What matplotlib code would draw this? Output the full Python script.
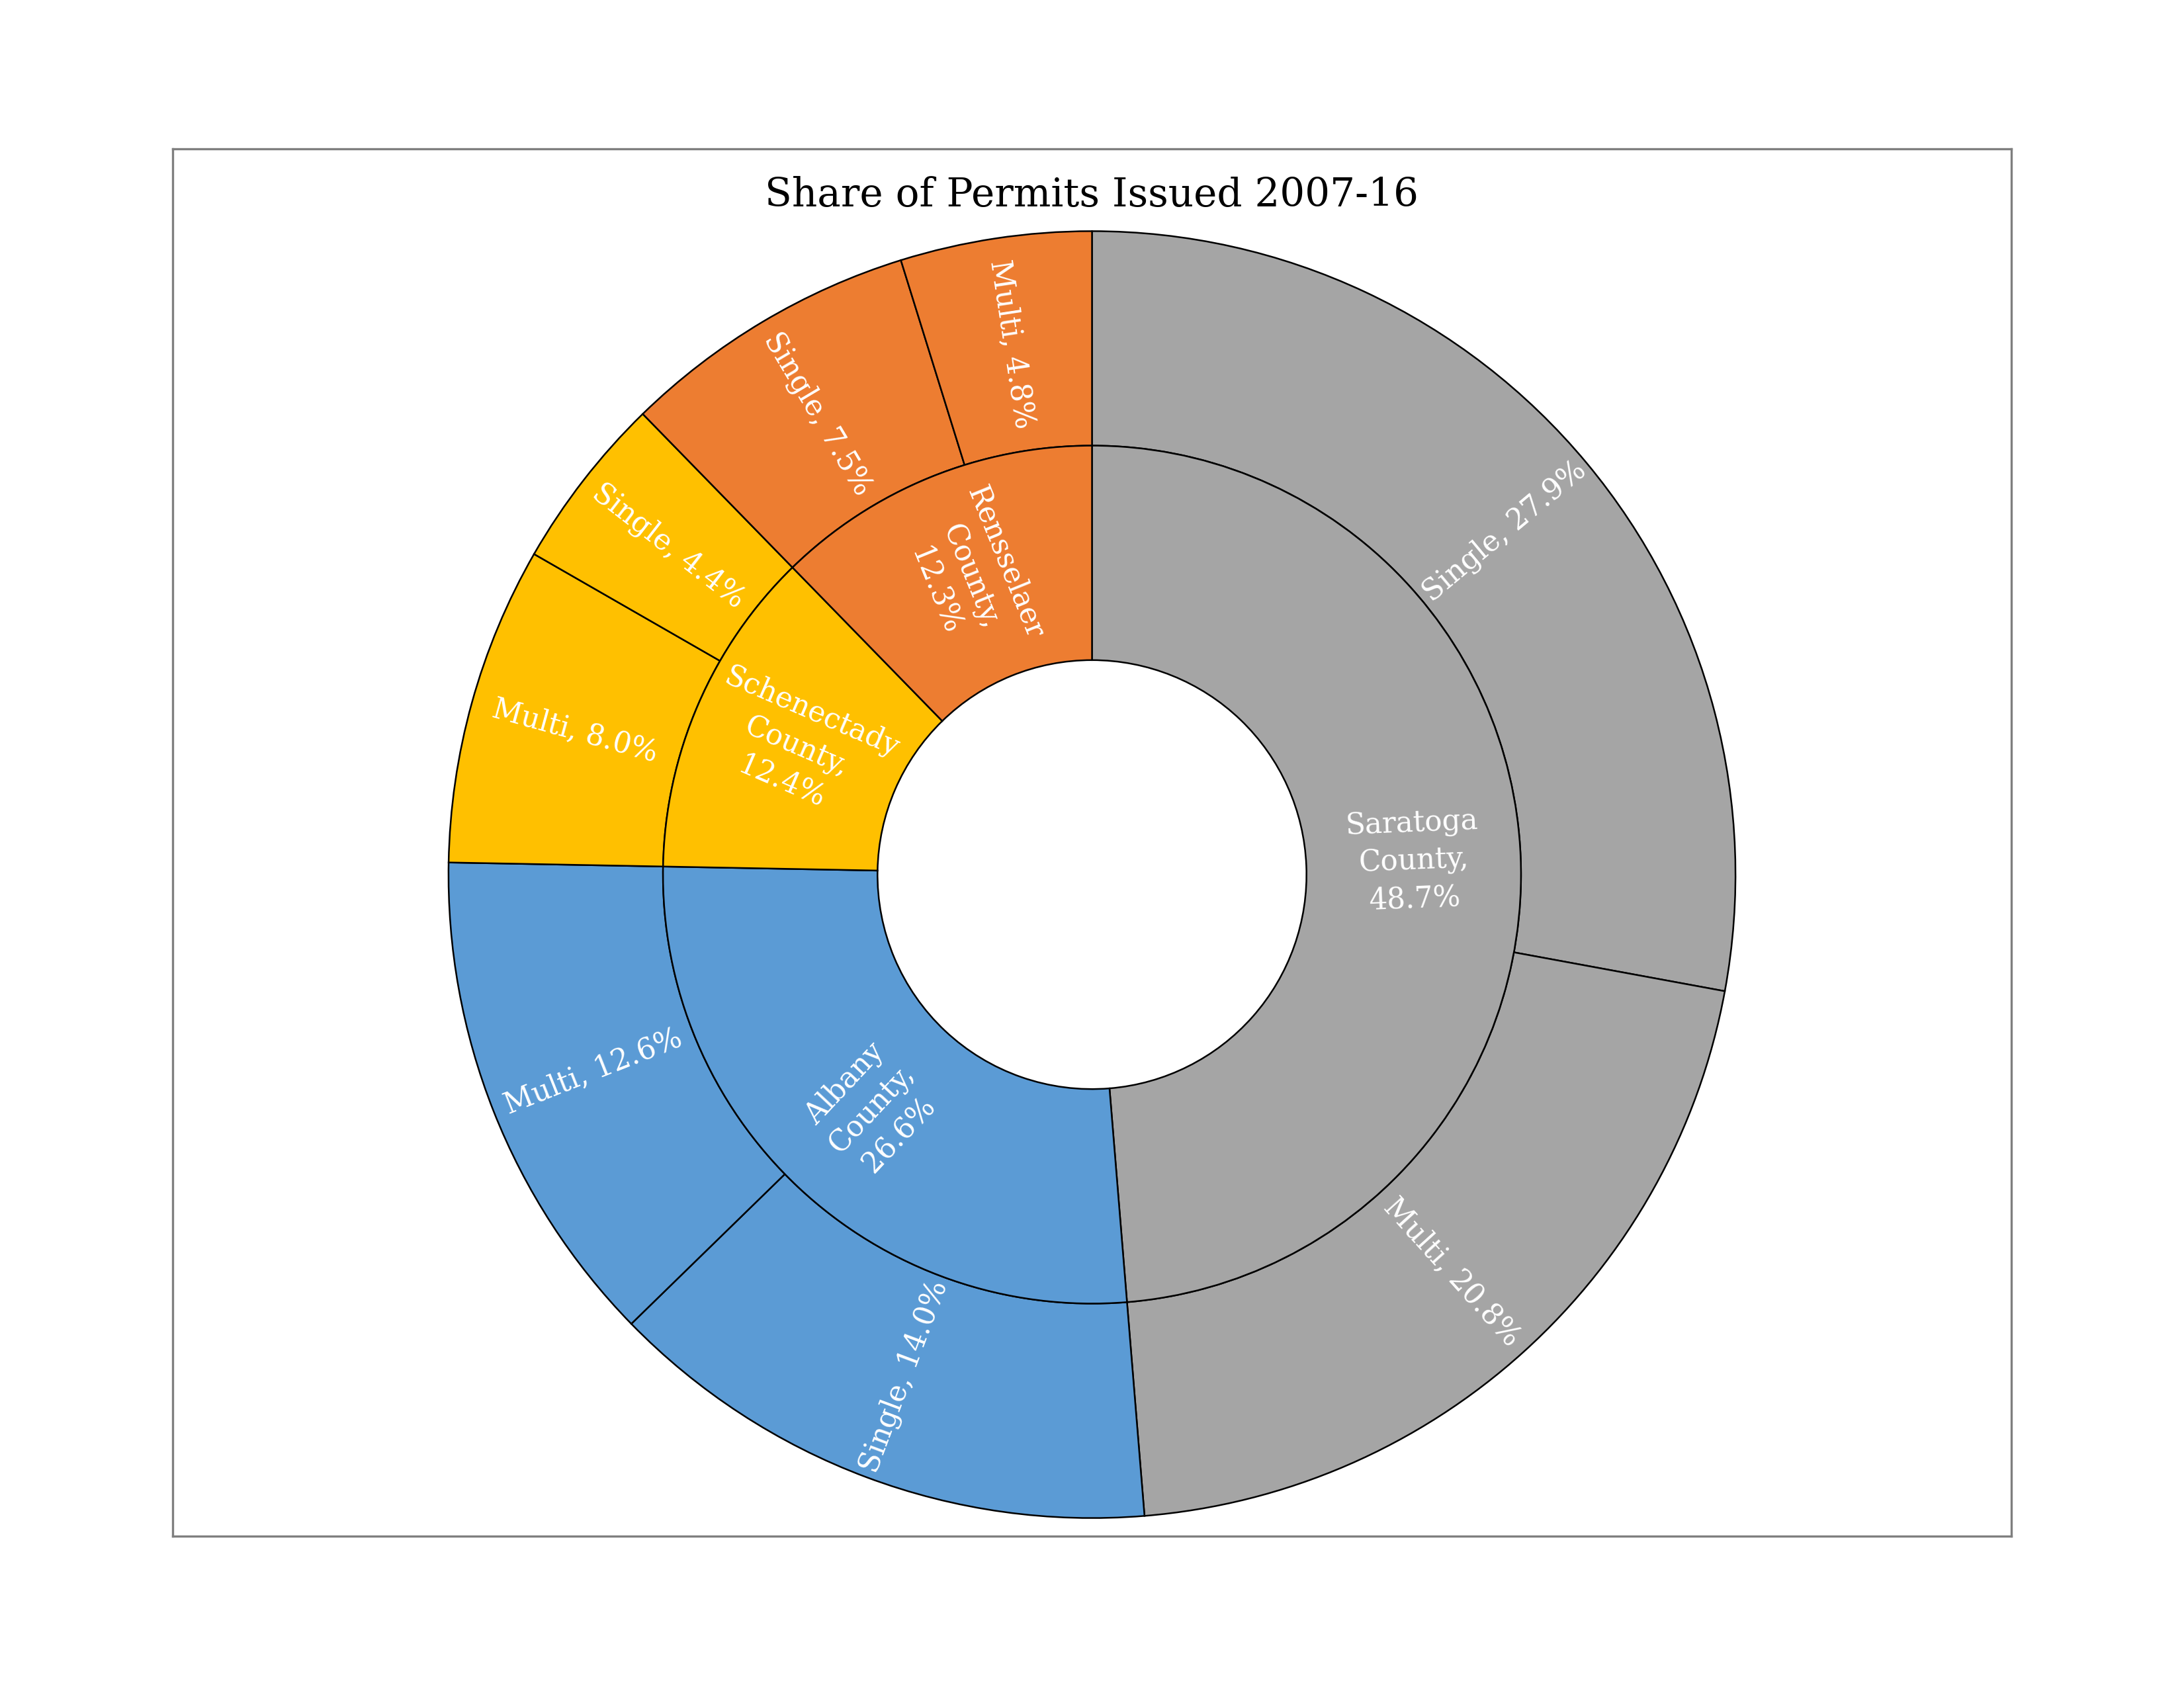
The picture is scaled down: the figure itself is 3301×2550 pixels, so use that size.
import numpy as np
import matplotlib
matplotlib.use("Agg")
import matplotlib.pyplot as plt

# data
counties = ["Saratoga", "Albany", "Schenectady", "Rensselaer"]
county_share = [48.7, 26.6, 12.4, 12.3]
county_colors = ["#A5A5A5", "#5B9BD5", "#FFC000", "#ED7D31"]

types = ["Single", "Multi", "Single", "Multi", "Multi", "Single", "Single", "Multi"]
type_share = [27.9, 20.8, 14.0, 12.6, 8.0, 4.4, 7.5, 4.8]
type_county = [0, 0, 1, 1, 2, 2, 3, 3]

plt.rcParams['font.family'] = ['DejaVu Serif']

fig = plt.figure(figsize=(3301/300, 2550/300), dpi=300)
W, H = 3301, 2550
# axes box in pixels
x0, x1, y0, y1 = 261, 3040, 228, 2325
ax = fig.add_axes([x0/W, y0/H, (x1-x0)/W, (y1-y0)/H])

R = 972.6
cx, cy = 1650.5, 1228

edge = dict(edgecolor="black", linewidth=0.6)
outer, _ = ax.pie(type_share, radius=1.0, startangle=90, counterclock=False,
                  colors=[county_colors[i] for i in type_county],
                  wedgeprops=dict(width=1/3, **edge))
inner, _ = ax.pie(county_share, radius=2/3, startangle=90, counterclock=False,
                  colors=county_colors, wedgeprops=dict(width=1/3, **edge))

ax.set_aspect('auto')
ax.set_xlim((x0-cx)/R, (x1-cx)/R)
ax.set_ylim((y0-cy)/R, (y1-cy)/R)
ax.set_frame_on(True)
for s in ax.spines.values():
    s.set_edgecolor("#7F7F7F")
    s.set_linewidth(0.8)
ax.set_xticks([])
ax.set_yticks([])


def put_label(w, r, txt):
    mid = (w.theta1 + w.theta2) / 2
    rad = np.deg2rad(mid)
    rot = mid % 360
    if rot > 180:
        rot -= 360
    if rot > 90:
        rot -= 180
    elif rot < -90:
        rot += 180
    ax.text(r*np.cos(rad), r*np.sin(rad), txt, color="white", fontsize=10.5,
            rotation=rot, rotation_mode="anchor", ha="center", va="center",
            multialignment="center", linespacing=1.4)


for w, name, v in zip(inner, counties, county_share):
    put_label(w, 0.5, f"{name}\nCounty,\n{v:.1f}%")
for w, t, v in zip(outer, types, type_share):
    put_label(w, 5/6, f"{t}, {v:.1f}%")

fig.text(0.5, 1 - 295/H, "Share of Permits Issued 2007-16", ha="center",
         va="center", fontsize=14.3, color="black")

fig.savefig("out.png", dpi=300, facecolor="white")
